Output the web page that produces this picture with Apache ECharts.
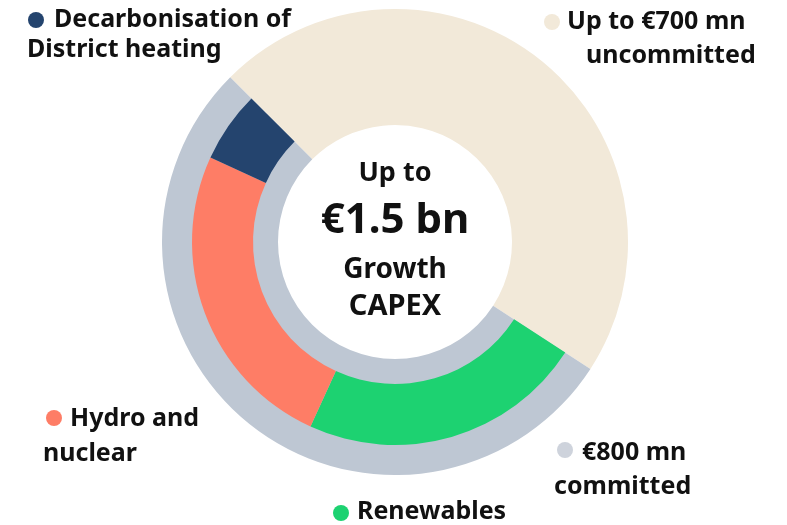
<!DOCTYPE html>
<html>
<head>
<meta charset="utf-8">
<script src="https://cdn.jsdelivr.net/npm/echarts@6/dist/echarts.min.js"></script>
<style>
  html, body { margin: 0; padding: 0; background: #fff; }
  #chart { width: 787px; height: 525px; }
</style>
</head>
<body>
<div id="chart"></div>
<script>
// outer split: uncommitted vs committed (EUR mn)
var totalNames = ['Up to €700 mn uncommitted', '€800 mn committed'];
var totalValues = [700, 800];
var totalColors = ['#F2E9D9', '#BEC7D3'];

// committed part split by area (EUR mn)
var segmentNames = ['Renewables', 'Hydro and nuclear', 'Decarbonisation of District heating'];
var segmentValues = [340, 375, 85];
var segmentColors = ['#1DD271', '#FE7D66', '#24446E'];

// label lines as drawn around the ring
var labelLines = {
    'Decarbonisation of District heating': ['Decarbonisation of', 'District heating'],
    'Up to €700 mn uncommitted': ['Up to €700 mn', 'uncommitted'],
    'Hydro and nuclear': ['Hydro and', 'nuclear'],
    '€800 mn committed': ['€800 mn', 'committed'],
    'Renewables': ['Renewables']
};
var centerLines = ['Up to', '€1.5 bn', 'Growth', 'CAPEX'];

var myChart = echarts.init(document.getElementById('chart'));

var FONT = '"Noto Sans", sans-serif';
var cx = 395, cy = 242;
var LS = 25; // label font size

function txt(str, x, y, size, align) {
    return {
        type: 'text',
        style: {
            text: str, x: x, y: y,
            fill: '#111111',
            font: 'bold ' + size + 'px ' + FONT,
            textAlign: align || 'left',
            textVerticalAlign: 'middle'
        }
    };
}
function dot(color, x, y) {
    return { type: 'circle', shape: { cx: x, cy: y, r: 8 }, style: { fill: color } };
}

var dotGrey = '#CED3DC';
var graphics = [
    // Decarbonisation
    dot(segmentColors[2], 36, 20),
    txt(labelLines[segmentNames[2]][0], 54, 20, LS),
    txt(labelLines[segmentNames[2]][1], 27, 50, LS),
    // uncommitted
    dot(totalColors[0], 552, 22),
    txt(labelLines[totalNames[0]][0], 567, 22, LS),
    txt(labelLines[totalNames[0]][1], 586, 56, LS),
    // Hydro
    dot(segmentColors[1], 54, 418),
    txt(labelLines[segmentNames[1]][0], 70, 419, LS),
    txt(labelLines[segmentNames[1]][1], 43, 454, LS),
    // committed
    dot(dotGrey, 565, 450),
    txt(labelLines[totalNames[1]][0], 582, 453, LS),
    txt(labelLines[totalNames[1]][1], 554, 487, LS),
    // Renewables
    dot(segmentColors[0], 341, 513),
    txt(labelLines[segmentNames[0]][0], 357, 512, LS),
    // center
    txt(centerLines[0], cx, 173, 27, 'center'),
    txt(centerLines[1], cx, 221, 42, 'center'),
    txt(centerLines[2], cx, 270, 28, 'center'),
    txt(centerLines[3], cx, 307, 29, 'center')
];

var outerData = totalNames.map(function (n, i) {
    return { name: n, value: totalValues[i], itemStyle: { color: totalColors[i] } };
});

// inner ring: a transparent gap for the uncommitted part, then the areas
var innerData = [{ name: 'gap', value: totalValues[0], itemStyle: { color: 'rgba(0,0,0,0)' } }]
    .concat(segmentNames.map(function (n, i) {
        return { name: n, value: segmentValues[i], itemStyle: { color: segmentColors[i] } };
    }));

var option = {
    animation: false,
    series: [{
        type: 'pie',
        silent: true,
        center: [cx, cy],
        radius: [117, 233],
        startAngle: 135,
        clockwise: true,
        label: { show: false },
        labelLine: { show: false },
        data: outerData
    }, {
        type: 'pie',
        silent: true,
        center: [cx, cy],
        radius: [142, 203],
        startAngle: 135,
        clockwise: true,
        label: { show: false },
        labelLine: { show: false },
        data: innerData
    }],
    graphic: graphics
};

myChart.setOption(option);
</script>
</body>
</html>
